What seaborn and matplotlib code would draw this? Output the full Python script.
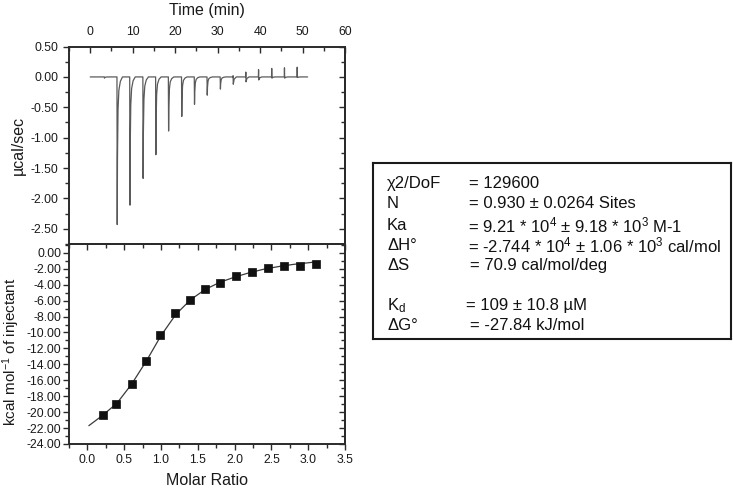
import numpy as np
import pandas as pd
import matplotlib
matplotlib.use("Agg")
import matplotlib.pyplot as plt
from matplotlib.ticker import MultipleLocator, FormatStrFormatter
import seaborn as sns

sns.set_theme(style="ticks")
plt.rcParams['font.family'] = ['Liberation Sans', 'DejaVu Sans']
plt.rcParams['mathtext.fontset'] = 'custom'
plt.rcParams['mathtext.rm'] = 'Liberation Sans'
plt.rcParams['mathtext.it'] = 'Liberation Sans'
plt.rcParams['axes.unicode_minus'] = False

# thermogram: injection times (min) and peak extremes (ucal/sec)
inj_time = [3.3, 6.3, 9.3, 12.4, 15.4, 18.4, 21.5, 24.5, 27.5, 30.6,
            33.6, 36.6, 39.6, 42.7, 45.7, 48.7]
peak_low = [-0.02, -2.43, -2.11, -1.67, -1.28, -0.89, -0.65, -0.45, -0.30,
            -0.20, -0.12, -0.08, -0.05, -0.02, -0.02, -0.01]
peak_high = [0.0, 0.0, 0.0, 0.0, 0.0, 0.0, 0.0, 0.0, 0.0, 0.0,
             0.02, 0.08, 0.12, 0.14, 0.15, 0.16]
run_end = 51.2

# integrated heats (kcal/mol of injectant)
molar_ratio = [0.21, 0.39, 0.60, 0.79, 0.99, 1.19, 1.40, 1.60, 1.80, 2.02,
               2.23, 2.45, 2.67, 2.89, 3.11]
heat = [-20.3, -19.0, -16.5, -13.6, -10.3, -7.6, -5.95, -4.5, -3.8, -2.9,
        -2.4, -1.9, -1.7, -1.7, -1.45]

# fitted curve
fit_x = [0.02, 0.2, 0.4, 0.6, 0.8, 1.0, 1.2, 1.4, 1.6, 1.8, 2.0, 2.2,
         2.4, 2.6, 2.8, 3.0, 3.12]
fit_y = [-21.7, -20.45, -18.9, -16.5, -13.6, -10.4, -7.75, -5.9, -4.6,
         -3.7, -3.05, -2.5, -2.05, -1.72, -1.45, -1.25, -1.12]

# peak shape template (offset in min, fraction of extreme) - drawing only
shape_dt = [0.0, 0.06, 0.12, 0.25, 0.45, 0.8, 1.3]
shape_fr = [0.0, 1.0, 0.55, 0.22, 0.09, 0.03, 0.0]

tx, ty = [0.0], [0.0]
for t0, lo, hi in zip(inj_time, peak_low, peak_high):
    if hi > 0:
        tx += [t0, t0 + 0.04, t0 + 0.09]
        ty += [0.0, hi, lo]
        tx += [t0 + 0.3, t0 + 0.8]
        ty += [lo * 0.3, 0.0]
    else:
        for dt, fr in zip(shape_dt, shape_fr):
            tx.append(t0 + dt)
            ty.append(lo * fr)
tx.append(run_end)
ty.append(0.0)
trace = pd.DataFrame({'time': tx, 'power': ty})

spine_col = '#2b2b2b'
fig = plt.figure(figsize=(7.33, 4.90), dpi=100)
ax1 = fig.add_axes([0.0941, 0.502, 0.3766, 0.403])
ax2 = fig.add_axes([0.0941, 0.0939, 0.3766, 0.408])

sns.lineplot(data=trace, x='time', y='power', ax=ax1, color='#5a5a5a',
             lw=0.9, estimator=None, sort=False)

sns.lineplot(x=fit_x, y=fit_y, ax=ax2, color='#3a3a3a', lw=0.9,
             estimator=None, sort=False)
sns.scatterplot(x=molar_ratio, y=heat, ax=ax2, marker='s', s=28,
                color='#111111', edgecolor='#111111', linewidth=0.5, zorder=3)


def style_secondary(sec, side, major, minor):
    axis = sec.yaxis if side == 'right' else sec.xaxis
    axis.set_major_locator(MultipleLocator(major))
    axis.set_minor_locator(MultipleLocator(minor))
    sec.tick_params(which='both', direction='in', colors=spine_col, width=1.0,
                    **{'label' + side: False})
    sec.tick_params(which='major', length=4.5)
    sec.tick_params(which='minor', length=3)
    sec.spines[side].set_linewidth(1.4)
    sec.spines[side].set_color(spine_col)


for ax in (ax1, ax2):
    for sp in ax.spines.values():
        sp.set_visible(True)
        sp.set_linewidth(1.4)
        sp.set_color(spine_col)
    ax.tick_params(axis='both', which='both', colors=spine_col,
                   labelcolor='#1a1a1a', labelsize=8.8, width=1.0, pad=3)
    ax.tick_params(which='major', length=4.5)
    ax.tick_params(which='minor', length=3)
    ax.set_xlabel('')
    ax.set_ylabel('')

# upper panel
ax1.set_xlim(-5, 60)
ax1.set_ylim(-2.75, 0.5)
ax1.xaxis.set_major_locator(MultipleLocator(10))
ax1.xaxis.set_minor_locator(MultipleLocator(5))
ax1.yaxis.set_major_locator(MultipleLocator(0.5))
ax1.yaxis.set_minor_locator(MultipleLocator(0.25))
ax1.yaxis.set_major_formatter(FormatStrFormatter('%.2f'))
ax1.xaxis.tick_top()
ax1.tick_params(axis='x', which='both', direction='in', pad=6)
ax1.tick_params(axis='y', which='both', direction='out', left=True, right=False)
ax1.spines['bottom'].set_visible(False)
style_secondary(ax1.secondary_yaxis('right'), 'right', 0.5, 0.25)

# lower panel
ax2.set_xlim(-0.25, 3.5)
ax2.set_ylim(-24, 1.1)
ax2.xaxis.set_major_locator(MultipleLocator(0.5))
ax2.xaxis.set_minor_locator(MultipleLocator(0.25))
ax2.yaxis.set_major_locator(MultipleLocator(2))
ax2.yaxis.set_minor_locator(MultipleLocator(1))
ax2.xaxis.set_major_formatter(FormatStrFormatter('%.1f'))
ax2.yaxis.set_major_formatter(FormatStrFormatter('%.2f'))
ax2.tick_params(axis='both', which='both', direction='out',
                bottom=True, left=True, top=False, right=False)
ax2.tick_params(axis='y', pad=1)
style_secondary(ax2.secondary_xaxis('top'), 'top', 0.5, 0.25)
style_secondary(ax2.secondary_yaxis('right'), 'right', 2, 1)

# axis titles, placed in figure pixels
W, H = 733, 490
fig.text(207 / W, 1 - 10 / H, 'Time (min)', fontsize=11.5,
         ha='center', va='center', color='#1a1a1a')
fig.text(207 / W, 1 - 480 / H, 'Molar Ratio', fontsize=11.5,
         ha='center', va='center', color='#1a1a1a')
fig.text(18 / W, 1 - 145 / H, 'µcal/sec', fontsize=11.5, rotation=90,
         ha='center', va='center', color='#1a1a1a')
fig.text(11 / W, 1 - 352 / H, 'kcal mol$^{-1}$ of injectant', fontsize=11,
         rotation=90, ha='center', va='center', color='#1a1a1a')

# fit results box
box_names = ['χ2/DoF', 'N', 'Ka', 'ΔH°', 'ΔS', 'K$_{\\mathrm{d}}$', 'ΔG°']
box_values = ['= 129600', '= 0.930 ± 0.0264 Sites',
              '= 9.21 * 10$^{4}$ ± 9.18 * 10$^{3}$ M-1',
              '= -2.744 * 10$^{4}$ ± 1.06 * 10$^{3}$ cal/mol',
              '= 70.9 cal/mol/deg', '= 109 ± 10.8 µM', '= -27.84 kJ/mol']
box_rows_y = [183, 204, 225, 245, 265, 305.5, 325.5]
box_eq_x = [469, 469, 468.5, 468.5, 470.5, 466, 470]

bx = fig.add_axes([0.509, 0.3076, 0.488, 0.359])
bx.set_xticks([])
bx.set_yticks([])
bx.set_facecolor('white')
for sp in bx.spines.values():
    sp.set_visible(True)
    sp.set_linewidth(1.5)
    sp.set_color('#1a1a1a')
for name, val, yy, ex in zip(box_names, box_values, box_rows_y, box_eq_x):
    fig.text(387 / W, 1 - yy / H, name, fontsize=12, va='center',
             ha='left', color='#111111')
    fig.text(ex / W, 1 - yy / H, val, fontsize=12, va='center',
             ha='left', color='#111111')

fig.savefig('out.png', dpi=100)
